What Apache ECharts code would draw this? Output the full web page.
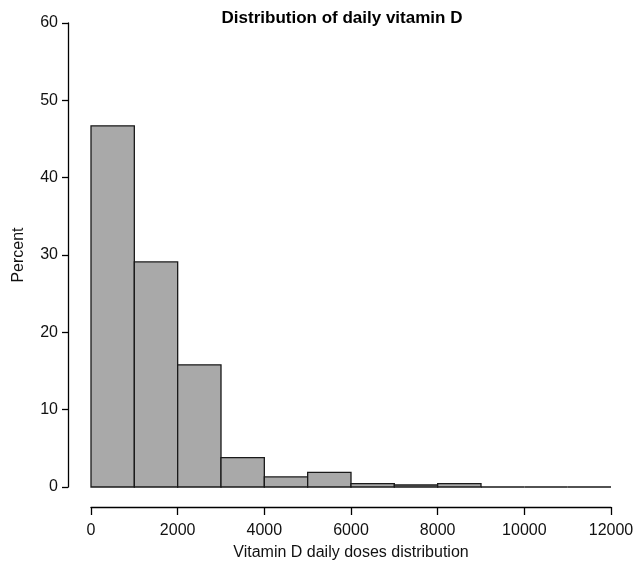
<!DOCTYPE html>
<html>
<head>
<meta charset="utf-8">
<script src="https://cdn.jsdelivr.net/npm/echarts@6/dist/echarts.min.js"></script>
<style>html,body{margin:0;padding:0;background:#fff}#c{width:635px;height:564px}</style>
</head>
<body>
<div id="c"></div>
<script>
var binStarts = [0,1000,2000,3000,4000,5000,6000,7000,8000,9000,10000,11000];
var binWidth = 1000;
var percents = [46.7,29.1,15.8,3.8,1.3,1.9,0.43,0.26,0.43,0,0,0];
var xTicks = [0,2000,4000,6000,8000,10000,12000];
var yTicks = [0,10,20,30,40,50,60];

var data = binStarts.map(function(s,i){return [s, s+binWidth, percents[i]];});
var chart = echarts.init(document.getElementById('c'), null, {renderer:'canvas'});
var font = 'Liberation Sans, Arial, sans-serif';
chart.setOption({
  animation:false,
  title:{text:'Distribution of daily vitamin D', left:337, top:5, textAlign:'center',
    textStyle:{fontFamily:font, fontSize:17, fontWeight:'bold', color:'#000'}},
  grid:{left:91, right:24, top:23, bottom:77, containLabel:false, outerBoundsMode:'none'},
  xAxis:{type:'value', min:xTicks[0], max:xTicks[xTicks.length-1], interval:2000, offset:20,
    name:'Vitamin D daily doses distribution', nameLocation:'middle', nameGap:38,
    nameTextStyle:{fontFamily:font, fontSize:16, color:'#111'},
    axisLine:{show:true, onZero:false, lineStyle:{color:'#000', width:1.3}},
    axisTick:{show:true, length:8, inside:false, lineStyle:{color:'#000', width:1.3}},
    axisLabel:{fontFamily:font, fontSize:16, color:'#111', margin:16, formatter:function(v){return String(v);}},
    splitLine:{show:false}},
  yAxis:{type:'value', min:yTicks[0], max:yTicks[yTicks.length-1], interval:10, offset:23,
    name:'Percent', nameLocation:'middle', nameGap:41,
    nameTextStyle:{fontFamily:font, fontSize:16, color:'#111'},
    axisLine:{show:true, onZero:false, lineStyle:{color:'#000', width:1.3}},
    axisTick:{show:true, length:6, lineStyle:{color:'#000', width:1.3}},
    axisLabel:{fontFamily:font, fontSize:16, color:'#111', margin:10, formatter:function(v){return String(v);}},
    splitLine:{show:false}},
  series:[{
    type:'custom',
    data:data,
    encode:{x:[0,1], y:2},
    renderItem:function(params, api){
      var p0 = api.coord([api.value(0), api.value(2)]);
      var p1 = api.coord([api.value(1), 0]);
      return {type:'rect',
        shape:{x:p0[0], y:p0[1], width:p1[0]-p0[0], height:p1[1]-p0[1]},
        style:{fill:'#a9a9a9', stroke:'#1a1a1a', lineWidth:1.3}};
    }
  }]
});
</script>
</body>
</html>
